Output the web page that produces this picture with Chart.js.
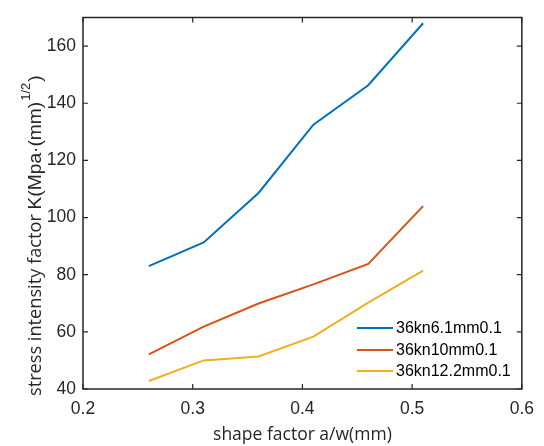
<!DOCTYPE html>
<html><head><meta charset="utf-8">
<script src="https://cdn.jsdelivr.net/npm/chart.js@4/dist/chart.umd.min.js"></script>
<style>html,body{margin:0;padding:0;background:#fff}#wrap{width:544px;height:446px}</style>
</head><body><div id="wrap"><canvas id="c" width="544" height="446"></canvas></div>
<script>
const xValues = [0.26, 0.31, 0.36, 0.41, 0.46, 0.51];
const series1 = [83, 91.3, 108.6, 132.5, 146.3, 168];
const series2 = [52.1, 61.8, 69.9, 76.6, 83.8, 104];
const series3 = [42.8, 50.0, 51.4, 58.3, 70.2, 81.4];
const seriesNames = ['36kn6.1mm0.1', '36kn10mm0.1', '36kn12.2mm0.1'];
const seriesColors = ['#0072BD', '#D95319', '#EDB120'];
const yTickMax = 160;
const xTitle = 'shape factor a/w(mm)';
const yTitleWords = 'stress intensity factor ';
const yTitleMain = 'K(Mpa\u00B7(mm)';
const yTitleSup = '1/2';
const yTitleEnd = ')';

const AX = '#262626';
const arial = '"Liberation Sans", Arial, sans-serif';
const titleFamily = '"Open Sans", "Noto Sans", sans-serif';

function pts(ys){ return xValues.map((x,i)=>({x:x, y:ys[i]})); }

const framePlugin = {
  id: 'frame',
  afterDraw(chart){
    const ctx = chart.ctx, a = chart.chartArea;
    const xs = chart.scales.x, ys = chart.scales.y;
    ctx.save();
    ctx.strokeStyle = AX; ctx.lineWidth = 1.5;
    ctx.strokeRect(a.left, a.top, a.right - a.left, a.bottom - a.top);
    const L = 5;
    ctx.lineWidth = 1.2;
    ctx.beginPath();
    xs.ticks.forEach(t => {
      const px = xs.getPixelForValue(t.value);
      ctx.moveTo(px, a.bottom); ctx.lineTo(px, a.bottom - L);
      ctx.moveTo(px, a.top); ctx.lineTo(px, a.top + L);
    });
    ys.ticks.forEach(t => {
      const py = ys.getPixelForValue(t.value);
      ctx.moveTo(a.left, py); ctx.lineTo(a.left + L, py);
      ctx.moveTo(a.right, py); ctx.lineTo(a.right - L, py);
    });
    ctx.stroke();

    // legend
    const lx0 = 357, lx1 = 393, tx = 396;
    const rowY = [328, 350, 371];
    ctx.font = '16px ' + arial;
    ctx.textBaseline = 'middle';
    ctx.textAlign = 'left';
    chart.data.datasets.forEach((ds, i) => {
      ctx.strokeStyle = ds.borderColor; ctx.lineWidth = 2;
      ctx.beginPath(); ctx.moveTo(lx0, rowY[i]); ctx.lineTo(lx1, rowY[i]); ctx.stroke();
      ctx.fillStyle = '#000';
      ctx.fillText(ds.label, tx, rowY[i] + 1);
    });

    // y title with superscript
    ctx.translate(40.5, 396);
    ctx.rotate(-Math.PI / 2);
    ctx.fillStyle = AX; ctx.textAlign = 'left'; ctx.textBaseline = 'alphabetic';
    let x = 0;
    ctx.font = '18.2px ' + titleFamily; ctx.fillText(yTitleWords, x, 0); x += ctx.measureText(yTitleWords).width;
    ctx.font = '19.2px ' + arial; ctx.fillText(yTitleMain, x, 0); x += ctx.measureText(yTitleMain).width + 1;
    ctx.font = '13px ' + arial; ctx.fillText(yTitleSup, x, -10.5); x += ctx.measureText(yTitleSup).width + 1;
    ctx.font = '19.2px ' + arial; ctx.fillText(yTitleEnd, x, 0);
    ctx.restore();
  }
};

new Chart(document.getElementById('c'), {
  type: 'line',
  data: {
    datasets: [series1, series2, series3].map((s, i) => ({
      label: seriesNames[i], data: pts(s), borderColor: seriesColors[i],
      backgroundColor: seriesColors[i], borderWidth: 2, pointRadius: 0,
      tension: 0, fill: false
    }))
  },
  options: {
    responsive: false, animation: false, devicePixelRatio: 1,
    layout: { padding: { left: 0, right: 17, top: 13, bottom: 0 } },
    plugins: { legend: { display: false }, tooltip: { enabled: false } },
    scales: {
      x: {
        type: 'linear', min: 0.2, max: 0.6,
        ticks: { stepSize: 0.1, color: AX, font: { family: arial, size: 17.5 },
          padding: 10, maxRotation: 0, callback: v => v.toFixed(1) },
        grid: { display: false, drawTicks: false },
        border: { display: false },
        title: { display: true, text: xTitle, color: AX, font: { family: titleFamily, size: 17.5 }, padding: { top: 4, bottom: 0 } },
        afterFit(s){ s.height = 57; }
      },
      y: {
        min: 40, max: 170,
        ticks: { stepSize: 20, color: AX, font: { family: arial, size: 17.5 }, padding: 7 },
        grid: { display: false, drawTicks: false },
        border: { display: false },
        afterBuildTicks(s){ s.ticks = s.ticks.filter(t => t.value <= yTickMax); },
        afterFit(s){ s.width = 83; }
      }
    }
  },
  plugins: [framePlugin]
});
</script></body></html>
